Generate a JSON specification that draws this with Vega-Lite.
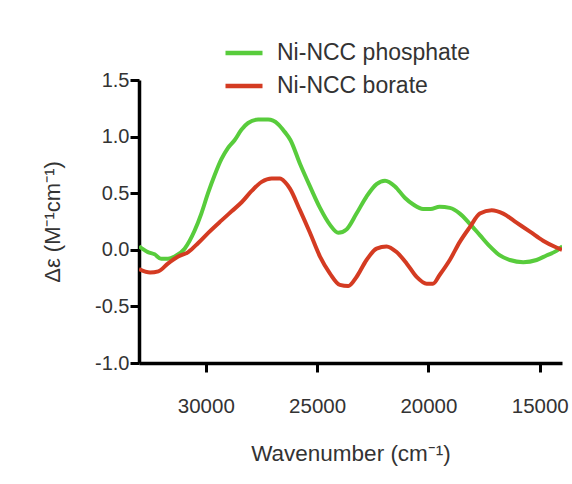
{
  "$schema": "https://vega.github.io/schema/vega-lite/v6.json",
  "width": 423,
  "height": 283,
  "autosize": "none",
  "padding": {"left": 139, "top": 80, "right": 10, "bottom": 121},
  "background": "white",
  "config": {
    "view": {"stroke": null},
    "font": "Liberation Sans"
  },
  "data": {
    "values": [
      {"w": 33000, "v": 0.03, "s": "Ni-NCC phosphate"},
      {"w": 32600, "v": -0.02, "s": "Ni-NCC phosphate"},
      {"w": 32300, "v": -0.04, "s": "Ni-NCC phosphate"},
      {"w": 32000, "v": -0.08, "s": "Ni-NCC phosphate"},
      {"w": 31700, "v": -0.08, "s": "Ni-NCC phosphate"},
      {"w": 31400, "v": -0.06, "s": "Ni-NCC phosphate"},
      {"w": 30950, "v": 0.01, "s": "Ni-NCC phosphate"},
      {"w": 30500, "v": 0.17, "s": "Ni-NCC phosphate"},
      {"w": 30200, "v": 0.32, "s": "Ni-NCC phosphate"},
      {"w": 29900, "v": 0.50, "s": "Ni-NCC phosphate"},
      {"w": 29600, "v": 0.66, "s": "Ni-NCC phosphate"},
      {"w": 29300, "v": 0.80, "s": "Ni-NCC phosphate"},
      {"w": 29000, "v": 0.90, "s": "Ni-NCC phosphate"},
      {"w": 28700, "v": 0.97, "s": "Ni-NCC phosphate"},
      {"w": 28400, "v": 1.06, "s": "Ni-NCC phosphate"},
      {"w": 28100, "v": 1.12, "s": "Ni-NCC phosphate"},
      {"w": 27650, "v": 1.15, "s": "Ni-NCC phosphate"},
      {"w": 27200, "v": 1.15, "s": "Ni-NCC phosphate"},
      {"w": 26750, "v": 1.11, "s": "Ni-NCC phosphate"},
      {"w": 26450, "v": 1.04, "s": "Ni-NCC phosphate"},
      {"w": 26200, "v": 0.97, "s": "Ni-NCC phosphate"},
      {"w": 25770, "v": 0.76, "s": "Ni-NCC phosphate"},
      {"w": 25320, "v": 0.56, "s": "Ni-NCC phosphate"},
      {"w": 24870, "v": 0.37, "s": "Ni-NCC phosphate"},
      {"w": 24420, "v": 0.22, "s": "Ni-NCC phosphate"},
      {"w": 24050, "v": 0.15, "s": "Ni-NCC phosphate"},
      {"w": 23680, "v": 0.18, "s": "Ni-NCC phosphate"},
      {"w": 23230, "v": 0.32, "s": "Ni-NCC phosphate"},
      {"w": 22780, "v": 0.47, "s": "Ni-NCC phosphate"},
      {"w": 22330, "v": 0.58, "s": "Ni-NCC phosphate"},
      {"w": 21950, "v": 0.61, "s": "Ni-NCC phosphate"},
      {"w": 21500, "v": 0.56, "s": "Ni-NCC phosphate"},
      {"w": 21060, "v": 0.46, "s": "Ni-NCC phosphate"},
      {"w": 20680, "v": 0.40, "s": "Ni-NCC phosphate"},
      {"w": 20240, "v": 0.36, "s": "Ni-NCC phosphate"},
      {"w": 19900, "v": 0.36, "s": "Ni-NCC phosphate"},
      {"w": 19500, "v": 0.38, "s": "Ni-NCC phosphate"},
      {"w": 19040, "v": 0.37, "s": "Ni-NCC phosphate"},
      {"w": 18590, "v": 0.32, "s": "Ni-NCC phosphate"},
      {"w": 18140, "v": 0.23, "s": "Ni-NCC phosphate"},
      {"w": 17690, "v": 0.13, "s": "Ni-NCC phosphate"},
      {"w": 17240, "v": 0.03, "s": "Ni-NCC phosphate"},
      {"w": 16790, "v": -0.05, "s": "Ni-NCC phosphate"},
      {"w": 16340, "v": -0.09, "s": "Ni-NCC phosphate"},
      {"w": 15740, "v": -0.11, "s": "Ni-NCC phosphate"},
      {"w": 15140, "v": -0.09, "s": "Ni-NCC phosphate"},
      {"w": 14700, "v": -0.05, "s": "Ni-NCC phosphate"},
      {"w": 14250, "v": -0.01, "s": "Ni-NCC phosphate"},
      {"w": 13980, "v": 0.03, "s": "Ni-NCC phosphate"},
      {"w": 33000, "v": -0.17, "s": "Ni-NCC borate"},
      {"w": 32500, "v": -0.20, "s": "Ni-NCC borate"},
      {"w": 32130, "v": -0.19, "s": "Ni-NCC borate"},
      {"w": 31690, "v": -0.12, "s": "Ni-NCC borate"},
      {"w": 31240, "v": -0.06, "s": "Ni-NCC borate"},
      {"w": 30790, "v": -0.02, "s": "Ni-NCC borate"},
      {"w": 30340, "v": 0.06, "s": "Ni-NCC borate"},
      {"w": 29890, "v": 0.15, "s": "Ni-NCC borate"},
      {"w": 29290, "v": 0.26, "s": "Ni-NCC borate"},
      {"w": 28840, "v": 0.34, "s": "Ni-NCC borate"},
      {"w": 28390, "v": 0.42, "s": "Ni-NCC borate"},
      {"w": 27940, "v": 0.52, "s": "Ni-NCC borate"},
      {"w": 27490, "v": 0.60, "s": "Ni-NCC borate"},
      {"w": 27040, "v": 0.63, "s": "Ni-NCC borate"},
      {"w": 26670, "v": 0.63, "s": "Ni-NCC borate"},
      {"w": 26450, "v": 0.60, "s": "Ni-NCC borate"},
      {"w": 26220, "v": 0.54, "s": "Ni-NCC borate"},
      {"w": 25770, "v": 0.35, "s": "Ni-NCC borate"},
      {"w": 25320, "v": 0.15, "s": "Ni-NCC borate"},
      {"w": 24870, "v": -0.06, "s": "Ni-NCC borate"},
      {"w": 24420, "v": -0.21, "s": "Ni-NCC borate"},
      {"w": 23980, "v": -0.31, "s": "Ni-NCC borate"},
      {"w": 23600, "v": -0.32, "s": "Ni-NCC borate"},
      {"w": 23230, "v": -0.24, "s": "Ni-NCC borate"},
      {"w": 22780, "v": -0.09, "s": "Ni-NCC borate"},
      {"w": 22330, "v": 0.01, "s": "Ni-NCC borate"},
      {"w": 21880, "v": 0.03, "s": "Ni-NCC borate"},
      {"w": 21430, "v": -0.02, "s": "Ni-NCC borate"},
      {"w": 20980, "v": -0.12, "s": "Ni-NCC borate"},
      {"w": 20530, "v": -0.24, "s": "Ni-NCC borate"},
      {"w": 20080, "v": -0.30, "s": "Ni-NCC borate"},
      {"w": 19800, "v": -0.30, "s": "Ni-NCC borate"},
      {"w": 19490, "v": -0.22, "s": "Ni-NCC borate"},
      {"w": 19040, "v": -0.09, "s": "Ni-NCC borate"},
      {"w": 18590, "v": 0.07, "s": "Ni-NCC borate"},
      {"w": 18140, "v": 0.20, "s": "Ni-NCC borate"},
      {"w": 17690, "v": 0.32, "s": "Ni-NCC borate"},
      {"w": 17160, "v": 0.35, "s": "Ni-NCC borate"},
      {"w": 16640, "v": 0.32, "s": "Ni-NCC borate"},
      {"w": 16040, "v": 0.24, "s": "Ni-NCC borate"},
      {"w": 15440, "v": 0.16, "s": "Ni-NCC borate"},
      {"w": 14850, "v": 0.08, "s": "Ni-NCC borate"},
      {"w": 14250, "v": 0.02, "s": "Ni-NCC borate"},
      {"w": 14000, "v": 0.00, "s": "Ni-NCC borate"}
    ]
  },
  "mark": {"type": "line", "strokeWidth": 4, "interpolate": "monotone", "clip": true},
  "encoding": {
    "x": {
      "field": "w",
      "type": "quantitative",
      "scale": {"domain": [14000, 33000], "reverse": true, "nice": false, "zero": false},
      "axis": {
        "title": "Wavenumber (cm⁻¹)",
        "values": [15000, 20000, 25000, 30000],
        "format": "d",
        "grid": false,
        "domainColor": "black",
        "domainWidth": 3.5,
        "tickColor": "black",
        "tickWidth": 3,
        "tickSize": 9,
        "labelFontSize": 20.5,
        "labelColor": "#333333",
        "labelPadding": 24,
        "labelFont": "Liberation Sans",
        "titleFont": "Liberation Sans",
        "titleFontSize": 22.5,
        "titleFontWeight": "normal",
        "titleColor": "#333333",
        "titlePadding": 26
      }
    },
    "y": {
      "field": "v",
      "type": "quantitative",
      "scale": {"domain": [-1.0, 1.5], "nice": false, "zero": false},
      "axis": {
        "title": "Δε (M⁻¹cm⁻¹)",
        "values": [-1.0, -0.5, 0, 0.5, 1.0, 1.5],
        "labelExpr": "replace(format(datum.value, '.1f'), '−', '-')",
        "grid": false,
        "domainColor": "black",
        "domainWidth": 3.5,
        "tickColor": "black",
        "tickWidth": 3,
        "tickSize": 9,
        "labelFontSize": 20,
        "labelColor": "#333333",
        "labelPadding": 1,
        "labelFont": "Liberation Sans",
        "titleFont": "Liberation Sans",
        "titleFontSize": 22,
        "titleFontWeight": "normal",
        "titleColor": "#333333",
        "titlePadding": 30
      }
    },
    "color": {
      "field": "s",
      "type": "nominal",
      "scale": {"domain": ["Ni-NCC phosphate", "Ni-NCC borate"], "range": ["#58CC3C", "#D43B22"]},
      "legend": {
        "title": null,
        "orient": "none",
        "legendX": 84,
        "legendY": -48,
        "padding": 0,
        "symbolType": "stroke",
        "symbolSize": 1369,
        "symbolStrokeWidth": 4.5,
        "labelFontSize": 23,
        "labelLimit": 400,
        "labelColor": "#333333",
        "labelFont": "Liberation Sans",
        "labelOffset": 12,
        "rowPadding": -2
      }
    }
  }
}
